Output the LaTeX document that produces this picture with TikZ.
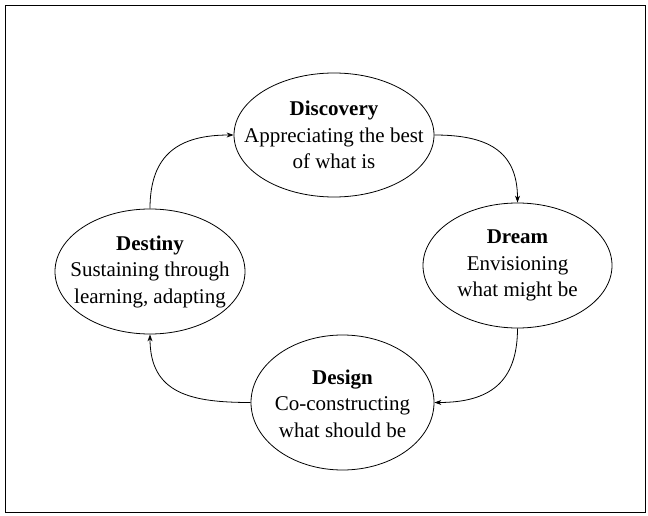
\documentclass[tikz,border=0pt]{standalone}
\usepackage{fontspec}
\setmainfont{Liberation Serif}
\usetikzlibrary{arrows.meta,shapes.geometric}
\begin{document}
\begin{tikzpicture}[x=1bp,y=1bp,
  phase/.style={draw,ellipse,line width=0.8bp,inner sep=0pt},
  phasetext/.style={inner sep=0pt,align=center,
    font=\fontsize{21bp}{26.5bp}\selectfont},
  flow/.style={line width=0.8bp,-{Stealth[length=7bp,width=5bp]}},
  frame/.style={draw,line width=0.8bp}]
\useasboundingbox (0,0) rectangle (648,-516);
\draw[frame] (5,-5) rectangle (645,-512);
\node[phase,minimum width=200bp,minimum height=124bp] (disc) at (334,-135) {};
\node[phasetext] (discT) at (334,-135)
  {\textbf{Discovery}\\Appreciating the best\\of what is};
\node[phase,minimum width=189bp,minimum height=125bp] (dream) at (517.5,-265.5) {};
\node[phasetext] (dreamT) at (517.5,-265.5)
  {\textbf{Dream}\\Envisioning\\what might be};
\node[phase,minimum width=190bp,minimum height=125bp] (destiny) at (150,-271.5) {};
\node[phasetext] (destinyT) at (150,-271.5)
  {\textbf{Destiny}\\Sustaining through\\learning, adapting};
\node[phase,minimum width=183bp,minimum height=135bp] (design) at (342.5,-402.5) {};
\node[phasetext] (designT) at (342.5,-403.5)
  {\textbf{Design}\\Co-constructing\\what should be};
\draw[flow] (disc.east) to[out=0,in=90,looseness=1.25] (dream.north);
\draw[flow] (dream.south) to[out=-90,in=0,looseness=1.25] (design.east);
\draw[flow] (design.west) to[out=180,in=-90,looseness=1.25] (destiny.south);
\draw[flow] (destiny.north) to[out=90,in=180,looseness=1.25] (disc.west);
\end{tikzpicture}
\end{document}
